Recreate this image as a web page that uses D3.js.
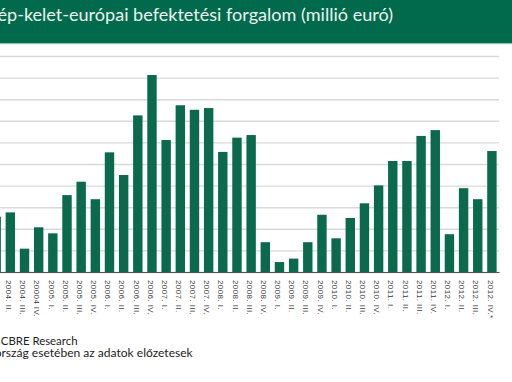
<!DOCTYPE html>
<html>
<head>
<meta charset="utf-8">
<script src="https://cdn.jsdelivr.net/npm/d3@7"></script>
<style>
  html, body { margin: 0; padding: 0; background: #fff; }
  svg { display: block; }
</style>
</head>
<body>
<div id="chart"></div>
<script>
// negyedévek (az első oszlop felirata a képen kívül esik)
const negyedevek = [
  "2004. I.", "2004. II.", "2004. III.", "20004 IV.",
  "2005. I.", "2005. II.", "2005. III.", "2005. IV.",
  "2006. I.", "2006. II.", "2006. III.", "2006. IV.",
  "2007. I.", "2007. II.", "2007. III.", "2007. IV.",
  "2008. I.", "2008. II.", "2008. III.", "2008. IV.",
  "2009. I.", "2009. II.", "2009. III.", "2009. IV.",
  "2010. I.", "2010. II.", "2010. III.", "2010. IV.",
  "2011. I.", "2011. II.", "2011. III.", "2011. IV.",
  "2012. I.", "2012. II.", "2012. III.", "2012. IV.*"
];
// forgalom, millió euró (a képről becsülve)
const forgalom = [
  1280, 1380, 540, 1035,
  895, 1780, 2090, 1685,
  2770, 2245, 3625, 4560,
  3055, 3860, 3755, 3795,
  2780, 3110, 3170, 690,
  230, 310, 690, 1325,
  780, 1250, 1590, 2005,
  2570, 2570, 3150, 3285,
  875, 1940, 1685, 2800
];
const yTicks = [0, 500, 1000, 1500, 2000, 2500, 3000, 3500, 4000, 4500, 5000];

const cim = "Közép-kelet-európai befektetési forgalom (millió euró)";
const forras = "Forrás: CBRE Research";
const megjegyzes = "*Magyarország esetében az adatok előzetesek";

const largura = 512, altura = 382;
const zold = "#0b6a4b";

const svg = d3.select("#chart")
  .append("svg")
  .attr("width", largura)
  .attr("height", altura)
  .attr("viewBox", "0 0 " + largura + " " + altura);

svg.append("rect").attr("width", largura).attr("height", altura).attr("fill", "#fff");

// fejléc sáv
svg.append("rect")
  .attr("x", 0).attr("y", 0)
  .attr("width", largura).attr("height", 43)
  .attr("fill", "#026a4c");
svg.append("rect")
  .attr("x", 0).attr("y", 43)
  .attr("width", largura).attr("height", 1.2)
  .attr("fill", "#8cc3ab");

// a szöveg látható részét a megadott szélességre illeszti, a többi kilóg balra
function illesztettSzoveg(teljes, lathato, jobb, y, szel, betu, szin) {
  const proba = svg.append("text")
    .attr("font-family", betu)
    .attr("font-size", 20)
    .text(lathato);
  const L = proba.node().getComputedTextLength();
  proba.remove();
  const meret = 20 * szel / L;
  svg.append("text")
    .attr("x", jobb)
    .attr("y", y)
    .attr("text-anchor", "end")
    .attr("font-family", betu)
    .attr("font-size", meret)
    .attr("fill", szin)
    .text(teljes);
}

illesztettSzoveg(cim, "-p-kelet-európai befektetési forgalom (millió euró)", 393, 20.7, 393,
  "Lato, 'Noto Sans', sans-serif", "#eaf3ef");

const x = d3.scaleBand()
  .domain(negyedevek)
  .range([-10.9, 499])
  .paddingInner(0.336)
  .paddingOuter(0.168);

const y = d3.scaleLinear()
  .domain([0, 5000])
  .range([272, 56]);

// rácsvonalak
const racs = svg.append("g")
  .attr("transform", "translate(-11,0)")
  .call(d3.axisLeft(y).tickValues(yTicks).tickSize(-510).tickFormat(""));
racs.select(".domain").remove();
racs.selectAll(".tick line")
  .attr("stroke", "#d9d9d9")
  .attr("stroke-width", 1.4);

// oszlopok
svg.append("g")
  .selectAll("rect")
  .data(forgalom)
  .enter()
  .append("rect")
  .attr("x", (d, i) => x(negyedevek[i]))
  .attr("y", d => y(d))
  .attr("width", x.bandwidth())
  .attr("height", d => y(0) - y(d))
  .attr("fill", zold);

// vízszintes tengely
const tengely = svg.append("g")
  .attr("transform", "translate(0,272)")
  .call(d3.axisBottom(x).tickSize(0));
tengely.select(".domain")
  .attr("stroke", "#555")
  .attr("stroke-width", 1);
tengely.selectAll(".tick text")
  .attr("transform", "translate(-1.5,8) rotate(90)")
  .attr("x", 0)
  .attr("y", 0)
  .attr("dy", "0.35em")
  .attr("text-anchor", "start")
  .attr("font-family", "'Liberation Sans', Arial, sans-serif")
  .attr("font-size", 8)
  .attr("letter-spacing", 0.4)
  .attr("fill", "#3a3a3a");

// lábjegyzet
illesztettSzoveg(forras, "CBRE Research", 77.5, 345, 76.8,
  "Lato, 'Noto Sans', sans-serif", "#222");
illesztettSzoveg(megjegyzes, "rszág esetében az adatok előzetesek", 192.7, 357, 191.5,
  "Lato, 'Noto Sans', sans-serif", "#222");
</script>
</body>
</html>
